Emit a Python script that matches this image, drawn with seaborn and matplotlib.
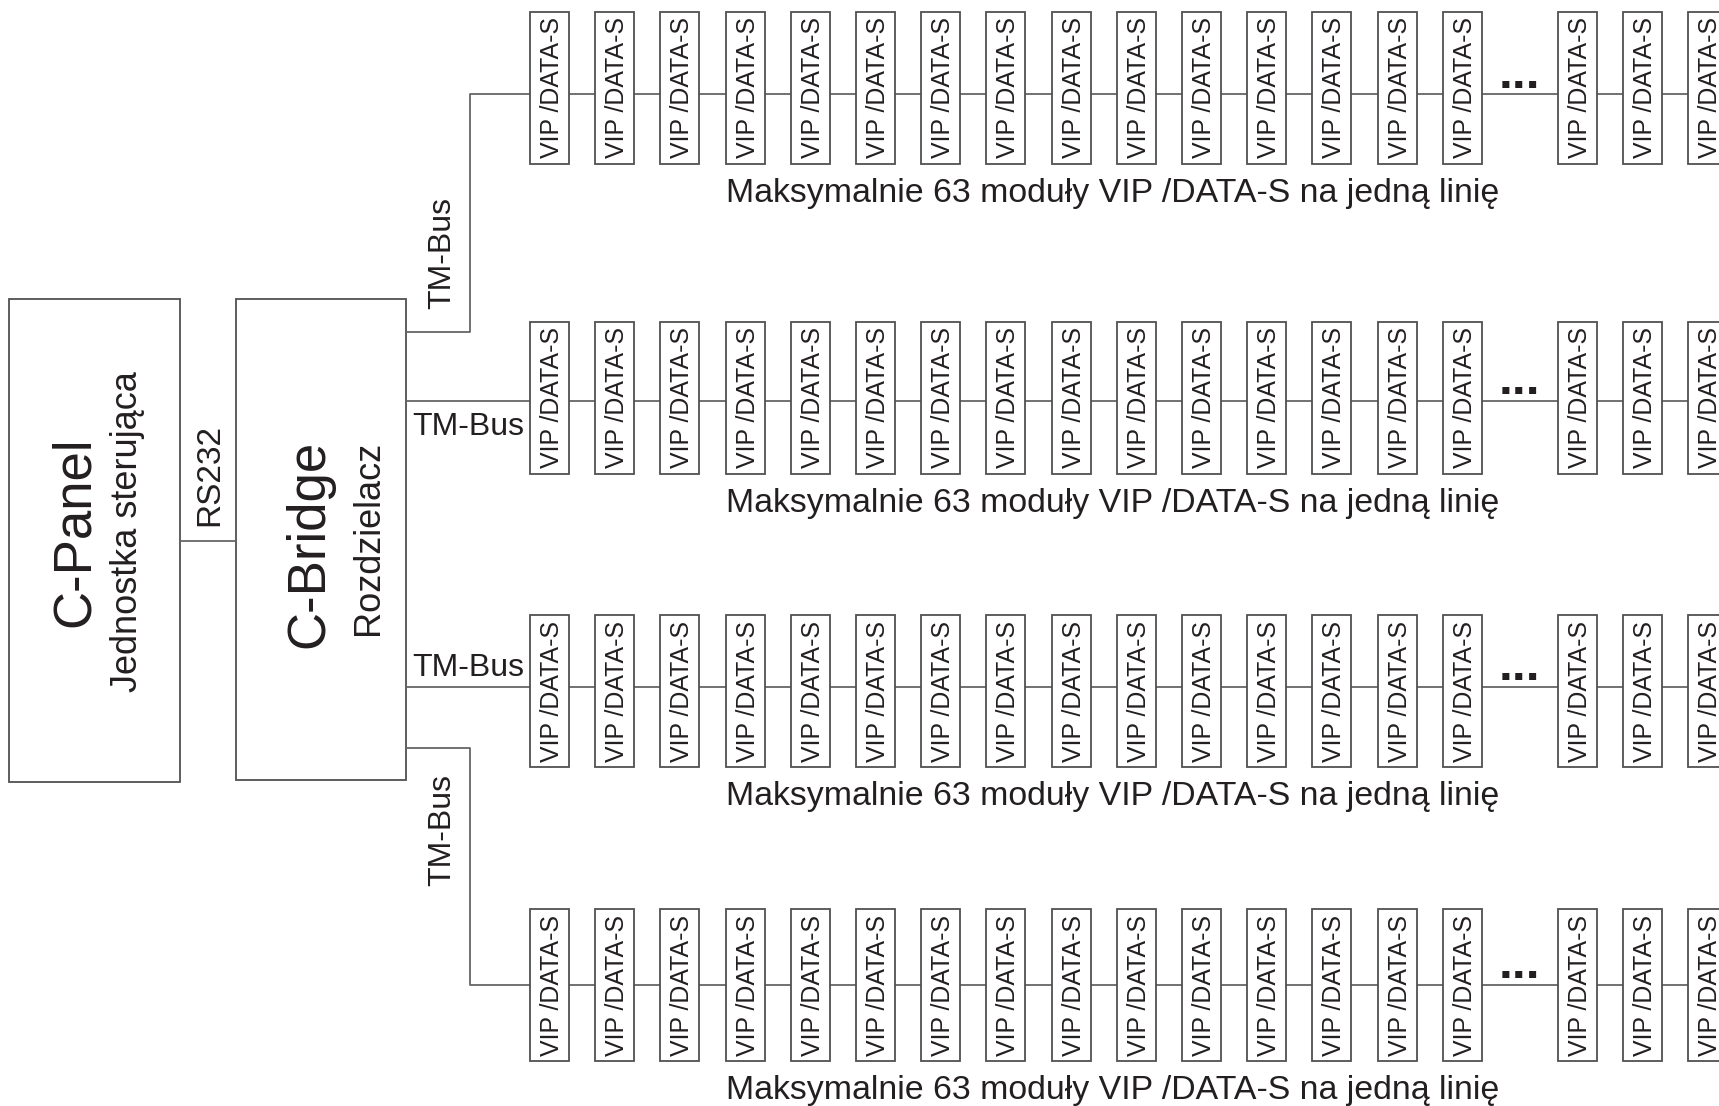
import numpy as np
import matplotlib
matplotlib.use("Agg")
import matplotlib.pyplot as plt
from matplotlib.patches import Rectangle
import seaborn as sns

# labels / content
panel_title = "C-Panel"
panel_sub = "Jednostka sterująca"
bridge_title = "C-Bridge"
bridge_sub = "Rozdzielacz"
link_label = "RS232"
bus_label = "TM-Bus"
module_label = "VIP /DATA-S"
caption = "Maksymalnie 63 moduły VIP /DATA-S na jedną linię"
modules_before_gap = 15
modules_after_gap = 3

# layout (pixel units, y grows downwards)
W, H = 1719, 1106
row_box_top = [12, 322, 615, 909]
row_line_y = [94, 401, 687, 985]
row_bridge_y = [332, 401, 687, 748]
row_routed = [True, False, False, True]
box_w, box_h = 39, 152
first_x, step = 530, 65.2
after_x = 1558
elbow_x = 470

sns.set_theme(style="white")
plt.rcParams['font.family'] = ['Liberation Sans', 'DejaVu Sans']
txt = '#231f20'
line_c = '#666666'
edge_c = '#505050'

fig = plt.figure(figsize=(W / 100, H / 100), dpi=100)
ax = fig.add_axes([0, 0, 1, 1])
ax.set_xlim(0, W)
ax.set_ylim(H, 0)
ax.axis('off')


def vtext(x, y, s, size):
    # rotated label, baseline on the right side, centred along y
    ax.text(x, y, s, rotation=90, rotation_mode='anchor',
            ha='center', va='baseline', fontsize=size, color=txt, zorder=4)


# main units
ax.add_patch(Rectangle((9, 299), 171, 483, fill=False, ec=edge_c, lw=1.3))
ax.add_patch(Rectangle((236, 299), 170, 481, fill=False, ec=edge_c, lw=1.3))
ax.plot([180, 236], [541, 541], color=line_c, lw=1.3)

vtext(89, 532, panel_title, 38)
vtext(137, 532, panel_sub, 26)
vtext(323, 544, bridge_title, 38)
vtext(378, 538, bridge_sub, 26)
vtext(218, 475, link_label, 24)

for r in range(4):
    top = row_box_top[r]
    ly = row_line_y[r]
    xs = [first_x + step * i for i in range(modules_before_gap)]
    xs += [after_x + step * i for i in range(modules_after_gap)]

    # bus from bridge
    if row_routed[r]:
        by = row_bridge_y[r]
        ax.plot([406, elbow_x, elbow_x, first_x], [by, by, ly, ly],
                color=line_c, lw=1.3)
    else:
        ax.plot([406, first_x], [ly, ly], color=line_c, lw=1.3)

    # chain line through all modules
    ax.plot([xs[0], W + 10], [ly, ly], color=line_c, lw=1.3, zorder=1)

    for x in xs:
        ax.add_patch(Rectangle((x, top), box_w, box_h, fc='white',
                               ec=edge_c, lw=1.3, zorder=3))
        vtext(x + 29, top + box_h / 2, module_label, 17.9)

    ax.text((xs[modules_before_gap - 1] + box_w + after_x) / 2, ly - 6.5, "...",
            ha='center', va='baseline', fontsize=36, fontweight='bold',
            color=txt, zorder=4)

    ax.text(1113, top + box_h + 38, caption, ha='center', va='baseline',
            fontsize=24.4, color=txt)

# bus labels
vtext(450, 253, bus_label, 23)
vtext(450, 830, bus_label, 23)
ax.text(412, 435, bus_label, ha='left', va='baseline', fontsize=23, color=txt)
ax.text(412, 676, bus_label, ha='left', va='baseline', fontsize=23, color=txt)

fig.savefig("out.png", dpi=100, facecolor='white')
